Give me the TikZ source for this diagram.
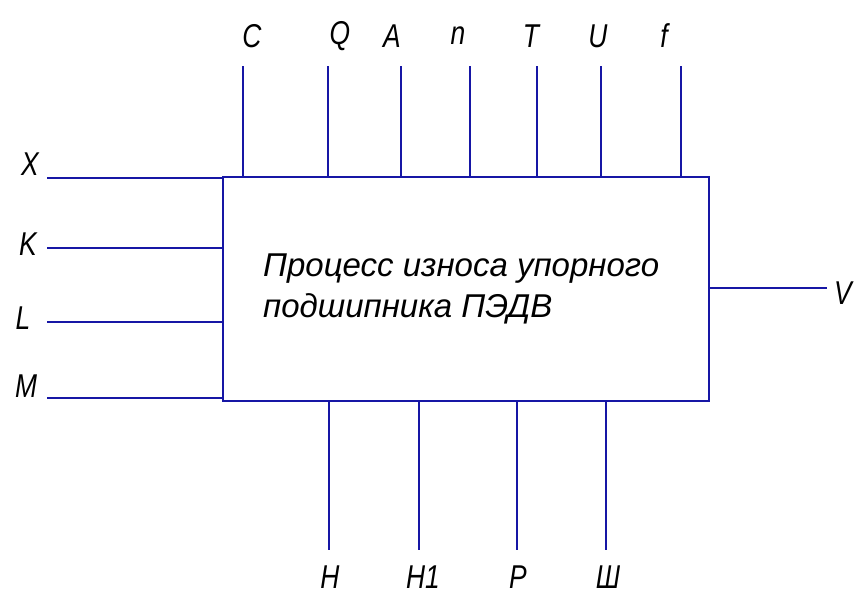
\documentclass[tikz,border=0pt]{standalone}
\usepackage{fontspec}
\newfontfamily\gost[FakeStretch=0.8]{Liberation Sans}
\newfontfamily\gostwide{Liberation Sans}
\definecolor{lineblue}{RGB}{22,22,165}
\begin{document}
\begin{tikzpicture}[x=1pt,y=-1pt,
    lbl/.style={font=\gost\itshape\fontsize{33}{35}\selectfont, inner sep=0pt},
    wire/.style={draw=lineblue, line width=2pt}]
  \useasboundingbox (0,0) rectangle (855,598);
  % process block
  \node[wire, minimum width=486pt, minimum height=224pt, inner sep=0pt] (proc) at (466,289) {};
  \node[anchor=west, align=left, inner sep=0pt, font=\gostwide\itshape\fontsize{33}{41}\selectfont]
    (proctxt) at (263,289) {Процесс износа упорного\\подшипника ПЭДВ};
  % inputs from the left
  \draw
    (30,164) node[lbl] (X){X}
    (28,244) node[lbl] (K){K}
    (23,318) node[lbl] (L){L}
    (26,386) node[lbl] (M){M};
  \coordinate (x0) at (47,178);
  \coordinate (k0) at (47,248);
  \coordinate (l0) at (47,322);
  \coordinate (m0) at (47,398);
  % parameters from above
  \draw
    (252,36) node[lbl] (C){C}
    (340,36) node[lbl] (Q){Q}
    (392,36) node[lbl] (A){A}
    (458,36) node[lbl] (n){n}
    (531,36) node[lbl] (T){T}
    (598,36) node[lbl] (U){U}
    (664,36) node[lbl] (f){f};
  \coordinate (c0) at (243,66);
  \coordinate (q0) at (328,66);
  \coordinate (a0) at (401,66);
  \coordinate (n0) at (470,66);
  \coordinate (t0) at (537,66);
  \coordinate (u0) at (601,66);
  \coordinate (f0) at (681,66);
  % outputs below and to the right
  \draw
    (330,577) node[lbl] (H){H}
    (423,577) node[lbl] (H1){H1}
    (518,577) node[lbl] (P){P}
    (608,577) node[lbl] (Sh){Ш}
    (852,293) node[lbl, anchor=east] (V){V};
  \coordinate (h0) at (329,550);
  \coordinate (h10) at (419,550);
  \coordinate (p0) at (517,550);
  \coordinate (sh0) at (606,550);
  \coordinate (v0) at (827,288);
  \begin{scope}[wire]
    \draw (x0) -- (x0 -| proc.west);
    \draw (k0) -- (k0 -| proc.west);
    \draw (l0) -- (l0 -| proc.west);
    \draw (m0) -- (m0 -| proc.west);
    \draw (c0) -- (c0 |- proc.north);
    \draw (q0) -- (q0 |- proc.north);
    \draw (a0) -- (a0 |- proc.north);
    \draw (n0) -- (n0 |- proc.north);
    \draw (t0) -- (t0 |- proc.north);
    \draw (u0) -- (u0 |- proc.north);
    \draw (f0) -- (f0 |- proc.north);
    \draw (proc.south -| h0) -- (h0);
    \draw (proc.south -| h10) -- (h10);
    \draw (proc.south -| p0) -- (p0);
    \draw (proc.south -| sh0) -- (sh0);
    \draw (proc.east |- v0) -- (v0);
  \end{scope}
\end{tikzpicture}
\end{document}
